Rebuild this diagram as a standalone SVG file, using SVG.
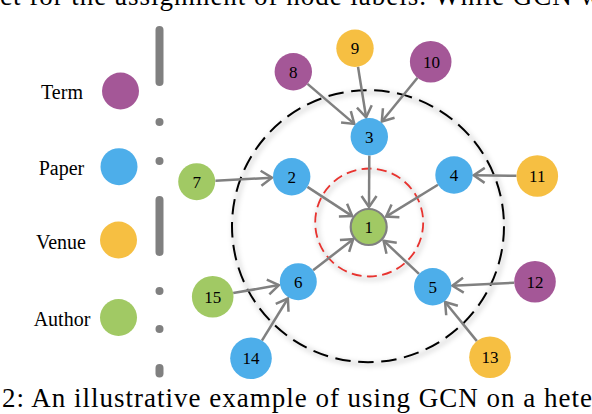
<svg xmlns="http://www.w3.org/2000/svg" width="592" height="414" viewBox="0 0 592 414">
<style>
.txt{font-family:"Liberation Serif","Times New Roman",serif;fill:#000}
.cap{font-size:27px}
.leg{font-size:20px;text-anchor:middle}
.lbl{font-size:17px;text-anchor:middle}
.term{fill:#A45797}
.paper{fill:#4DAEEA}
.venue{fill:#F6BF42}
.author{fill:#A1C964}
.edge{stroke:#808080;stroke-width:2.5;fill:none;marker-end:url(#arr)}
.vline{stroke:#808080;stroke-width:8;stroke-linecap:round;fill:none}
</style>
<defs>
<marker id="arr" markerUnits="userSpaceOnUse" viewBox="-14 -10 16 20" refX="0" refY="0" markerWidth="16" markerHeight="20" orient="auto" overflow="visible">
<path d="M-11,-7.5 L0,0 L-11,7.5" fill="none" stroke="#808080" stroke-width="2.5" stroke-linejoin="miter"/>
</marker>
<filter id="blur" x="-20%" y="-20%" width="140%" height="140%">
<feGaussianBlur stdDeviation="2.5"/>
</filter>
</defs>
<rect width="592" height="414" fill="#fff"/>
<text class="txt cap" x="0" y="4.5" textLength="600" lengthAdjust="spacing">ct for the assignment of node labels. While GCN w</text>
<text class="txt cap" x="2" y="406.5" textLength="590" lengthAdjust="spacing">2: An illustrative example of using GCN on a hete</text>
<g id="separator">
<line class="vline" x1="159.5" y1="30" x2="159.5" y2="82"/>
<line class="vline" x1="159.5" y1="122" x2="159.5" y2="122.1"/>
<line class="vline" x1="159.5" y1="161" x2="159.5" y2="161.1"/>
<line class="vline" x1="159.5" y1="200" x2="159.5" y2="252"/>
<line class="vline" x1="159.5" y1="291" x2="159.5" y2="291.1"/>
<line class="vline" x1="159.5" y1="329" x2="159.5" y2="329.1"/>
<line class="vline" x1="159.5" y1="368" x2="159.5" y2="373.5"/>
</g>
<g id="legend">
<g id="legend-term"><text class="txt leg" x="62" y="99.3">Term</text><circle class="term" cx="120.5" cy="91" r="18.5"/></g>
<g id="legend-paper"><text class="txt leg" x="61.5" y="175">Paper</text><circle class="paper" cx="119" cy="166.7" r="18.5"/></g>
<g id="legend-venue"><text class="txt leg" x="61" y="249.3">Venue</text><circle class="venue" cx="118.5" cy="240" r="18.5"/></g>
<g id="legend-author"><text class="txt leg" x="62" y="325.7">Author</text><circle class="author" cx="118.5" cy="317.5" r="18.5"/></g>
</g>
<g id="rings">
<circle cx="370" cy="228.5" r="136" fill="none" stroke="#000" stroke-opacity="0.13" stroke-width="4" filter="url(#blur)"/>
<circle cx="368" cy="226.2" r="136" fill="none" stroke="#000" stroke-width="2" stroke-dasharray="15.5 7.6"/>
<circle cx="371" cy="225" r="54" fill="none" stroke="#000" stroke-opacity="0.12" stroke-width="4" filter="url(#blur)"/>
<circle cx="369.2" cy="222.5" r="54" fill="none" stroke="#E8332F" stroke-width="1.8" stroke-dasharray="10 5.4"/>
</g>
<g id="connectors">
<line class="edge" x1="307.5" y1="83.9" x2="354.3" y2="123.9"/>
<line class="edge" x1="358" y1="66.8" x2="366.1" y2="117.3"/>
<line class="edge" x1="417.5" y1="77.8" x2="381.8" y2="121.5"/>
<line class="edge" x1="369.3" y1="155.4" x2="369" y2="207"/>
<line class="edge" x1="307.4" y1="186.9" x2="352.2" y2="216.1"/>
<line class="edge" x1="438" y1="184.8" x2="386.1" y2="216.6"/>
<line class="edge" x1="313.1" y1="270.3" x2="353.2" y2="239.2"/>
<line class="edge" x1="419" y1="273.9" x2="383.6" y2="240.7"/>
<line class="edge" x1="215.4" y1="180.7" x2="272" y2="177.7"/>
<line class="edge" x1="516.5" y1="175.8" x2="473.7" y2="175.2"/>
<line class="edge" x1="514.2" y1="282.7" x2="452.4" y2="285.7"/>
<line class="edge" x1="476.9" y1="341.1" x2="445.1" y2="302"/>
<line class="edge" x1="233.2" y1="293.1" x2="278.9" y2="285.1"/>
<line class="edge" x1="261.9" y1="340.6" x2="287.9" y2="298.5"/>
</g>
<g id="node1"><circle class="author" cx="368.7" cy="227" r="18" stroke="#808080" stroke-width="2.2"/><text class="txt lbl" x="368.7" y="233">1</text></g>
<g id="node2"><circle class="paper" cx="291.7" cy="176.7" r="18.7"/><text class="txt lbl" x="291.7" y="182.7">2</text></g>
<g id="node3"><circle class="paper" cx="369.3" cy="136.7" r="18.7"/><text class="txt lbl" x="369.3" y="142.7">3</text></g>
<g id="node4"><circle class="paper" cx="454" cy="175" r="18.7"/><text class="txt lbl" x="454" y="181">4</text></g>
<g id="node5"><circle class="paper" cx="432.7" cy="286.7" r="18.7"/><text class="txt lbl" x="432.7" y="292.7">5</text></g>
<g id="node6"><circle class="paper" cx="298.3" cy="281.7" r="18.5"/><text class="txt lbl" x="298.3" y="287.7">6</text></g>
<g id="node7"><circle class="author" cx="196.7" cy="181.7" r="18.5"/><text class="txt lbl" x="196.7" y="187.7">7</text></g>
<g id="node8"><circle class="term" cx="293.3" cy="71.7" r="18.7"/><text class="txt lbl" x="293.3" y="77.7">8</text></g>
<g id="node9"><circle class="venue" cx="355" cy="48.3" r="18.7"/><text class="txt lbl" x="355" y="54.3">9</text></g>
<g id="node10"><circle class="term" cx="430.7" cy="61.7" r="20.8"/><text class="txt lbl" x="431.5" y="67.7">10</text></g>
<g id="node11"><circle class="venue" cx="537.3" cy="176" r="20.8"/><text class="txt lbl" x="537.3" y="182">11</text></g>
<g id="node12"><circle class="term" cx="535" cy="281.7" r="20.8"/><text class="txt lbl" x="535" y="287.7">12</text></g>
<g id="node13"><circle class="venue" cx="490" cy="357.3" r="20.8"/><text class="txt lbl" x="490" y="363.3">13</text></g>
<g id="node14"><circle class="paper" cx="251" cy="358.3" r="20.8"/><text class="txt lbl" x="251" y="364.3">14</text></g>
<g id="node15"><circle class="author" cx="212.7" cy="296.7" r="20.8"/><text class="txt lbl" x="212.7" y="302.7">15</text></g>
</svg>
